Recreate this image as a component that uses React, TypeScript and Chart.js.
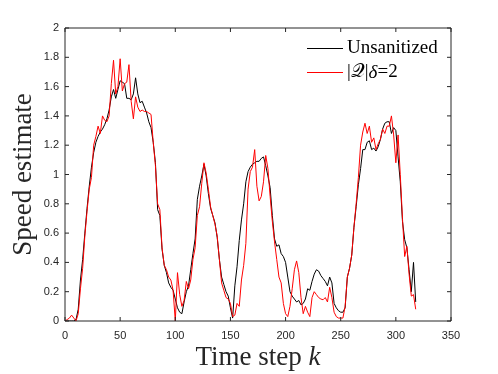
import React, { useEffect, useRef } from "react";
import { Chart, registerables } from "chart.js";

Chart.register(...registerables);

// Time steps k (every second step)
const timeSteps: number[] = Array.from({ length: 160 }, (_, i) => i * 2);

const unsanitized: number[] = [
  0.0, 0.0, 0.0, 0.0, 0.0, 0.01, 0.08, 0.28, 0.42, 0.6,
  0.77, 0.92, 1.05, 1.15, 1.22, 1.26, 1.29, 1.31, 1.34, 1.38,
  1.44, 1.53, 1.58, 1.52, 1.58, 1.64, 1.63, 1.62, 1.52, 1.52,
  1.51, 1.55, 1.66, 1.55, 1.49, 1.5, 1.46, 1.42, 1.36, 1.32,
  1.22, 1.08, 0.76, 0.72, 0.49, 0.38, 0.33, 0.26, 0.23, 0.21,
  0.15, 0.09, 0.06, 0.05, 0.13, 0.2, 0.24, 0.35, 0.46, 0.56,
  0.83, 0.92, 0.99, 1.07, 0.99, 0.87, 0.77, 0.72, 0.67, 0.57,
  0.42, 0.3, 0.25, 0.2, 0.17, 0.09, 0.02, 0.24, 0.37, 0.55,
  0.69, 0.8, 0.95, 1.02, 1.05, 1.07, 1.08, 1.09, 1.09, 1.11,
  1.12, 1.06, 0.99, 0.91, 0.72, 0.56, 0.51, 0.52, 0.46, 0.44,
  0.4, 0.3, 0.2, 0.17, 0.15, 0.13, 0.14, 0.11, 0.12, 0.15,
  0.22, 0.21, 0.27, 0.32, 0.35, 0.34, 0.31, 0.29, 0.27, 0.24,
  0.3, 0.26, 0.12, 0.09, 0.07, 0.06, 0.06, 0.09, 0.3, 0.36,
  0.45, 0.64, 0.78, 0.93, 1.04, 1.17, 1.17, 1.22, 1.23, 1.17,
  1.18, 1.16, 1.19, 1.24, 1.31, 1.35, 1.36, 1.36, 1.28, 1.32,
  1.3, 1.12, 0.95, 0.68, 0.555, 0.5, 0.35, 0.2, 0.4, 0.13,
];

const sanitized: number[] = [
  0.0, 0.01, 0.02, 0.04, 0.02, 0.0, 0.05, 0.22, 0.36, 0.58,
  0.75, 0.9, 0.98, 1.2, 1.26, 1.33, 1.28, 1.4, 1.37, 1.36,
  1.4, 1.62, 1.78, 1.55, 1.6, 1.79, 1.57, 1.62, 1.63, 1.75,
  1.5, 1.38, 1.53, 1.46, 1.43, 1.44, 1.43, 1.43, 1.42, 1.41,
  1.22, 1.06, 0.8, 0.76, 0.5, 0.38, 0.35, 0.3, 0.28, 0.21,
  0.0, 0.33, 0.18, 0.1, 0.14, 0.27, 0.22, 0.28, 0.42, 0.5,
  0.72, 0.78, 0.94, 1.08, 1.01, 0.9, 0.78, 0.72, 0.66, 0.58,
  0.42, 0.26, 0.21, 0.16, 0.15, 0.12, 0.03, 0.04, 0.12, 0.1,
  0.28, 0.38, 0.53, 0.9, 1.02, 1.05, 1.17, 0.92, 0.82, 0.85,
  0.95, 1.13, 1.04, 0.85, 0.68, 0.54, 0.42, 0.3, 0.26, 0.12,
  0.05, 0.03, 0.1, 0.22, 0.35, 0.41, 0.33, 0.16, 0.05, 0.1,
  0.06, 0.03, 0.16, 0.2, 0.18, 0.16, 0.15, 0.145, 0.16, 0.13,
  0.23, 0.16, 0.06, 0.03, 0.02, 0.02, 0.02, 0.1, 0.3, 0.36,
  0.45, 0.64, 0.8, 0.98, 1.2, 1.29, 1.35, 1.28, 1.33, 1.22,
  1.25, 1.17, 1.21, 1.24, 1.31, 1.28, 1.33, 1.33, 1.4, 1.27,
  1.08, 1.27, 1.0, 0.7, 0.44, 0.51, 0.32, 0.17, 0.18, 0.08,
];

const seriesNames = ["Unsanitized", "|𝒬|δ=2"];
// legend label pieces: [text, italic]
const seriesLabelParts: [string, boolean][][] = [
  [["Unsanitized", false]],
  [["|𝒬|", false], ["δ", true], ["=2", false]],
];
const seriesColors = ["#000000", "#ff0000"];
const xTitle = "Time step ";
const xTitleItalic = "k";
const yTitle = "Speed estimate";

const AXIS_COLOR = "#262626";
const SERIF = "'Liberation Serif', 'DejaVu Serif', serif";
const SANS = "'Liberation Sans', Arial, sans-serif";

const boxPlugin = {
  id: "matlabBox",
  afterDatasetsDraw(chart: any) {
    const { ctx, chartArea, scales } = chart;
    const { left, right, top, bottom } = chartArea;
    ctx.save();
    ctx.strokeStyle = AXIS_COLOR;
    ctx.lineWidth = 1;
    ctx.beginPath();
    ctx.rect(left, top, right - left, bottom - top);
    ctx.stroke();
    const tl = 4;
    ctx.beginPath();
    scales.x.ticks.forEach((t: any) => {
      const px = scales.x.getPixelForValue(t.value);
      ctx.moveTo(px, bottom);
      ctx.lineTo(px, bottom - tl);
      ctx.moveTo(px, top);
      ctx.lineTo(px, top + tl);
    });
    scales.y.ticks.forEach((t: any) => {
      const py = scales.y.getPixelForValue(t.value);
      ctx.moveTo(left, py);
      ctx.lineTo(left + tl, py);
      ctx.moveTo(right, py);
      ctx.lineTo(right - tl, py);
    });
    ctx.stroke();
    ctx.restore();
  },
  afterDraw(chart: any) {
    const { ctx, chartArea } = chart;
    const { left, right, top, bottom } = chartArea;
    ctx.save();
    ctx.fillStyle = "#262626";
    // x title
    const fs = 27;
    ctx.font = `${fs}px ${SERIF}`;
    const w1 = ctx.measureText(xTitle).width;
    ctx.font = `italic ${fs}px ${SERIF}`;
    const w2 = ctx.measureText(xTitleItalic).width;
    const cx = (left + right) / 2;
    const x0 = cx - (w1 + w2) / 2;
    ctx.textBaseline = "alphabetic";
    ctx.textAlign = "left";
    ctx.font = `${fs}px ${SERIF}`;
    ctx.fillText(xTitle, x0, 365);
    ctx.font = `italic ${fs}px ${SERIF}`;
    ctx.fillText(xTitleItalic, x0 + w1, 365);
    // y title
    ctx.save();
    ctx.translate(31, (top + bottom) / 2);
    ctx.rotate(-Math.PI / 2);
    ctx.textAlign = "center";
    ctx.font = `${fs}px ${SERIF}`;
    ctx.fillText(yTitle, 0, 0);
    ctx.restore();
    // legend
    const rows = [48.5, 72.5];
    ctx.textBaseline = "middle";
    ctx.textAlign = "left";
    rows.forEach((y, i) => {
      ctx.strokeStyle = seriesColors[i];
      ctx.lineWidth = 1;
      ctx.beginPath();
      ctx.moveTo(307, y);
      ctx.lineTo(343, y);
      ctx.stroke();
      ctx.fillStyle = "#000000";
      let x = 347;
      seriesLabelParts[i].forEach(([txt, it]) => {
        ctx.font = `${it ? "italic " : ""}19px ${SERIF}`;
        ctx.fillText(txt, x, y);
        x += ctx.measureText(txt).width;
      });
    });
    ctx.restore();
  },
};

export default function App() {
  const canvasRef = useRef<HTMLCanvasElement | null>(null);

  useEffect(() => {
    if (!canvasRef.current) return;
    const chart = new Chart(canvasRef.current, {
      type: "line",
      data: {
        datasets: [
          {
            label: seriesNames[0],
            data: timeSteps.map((k, i) => ({ x: k, y: unsanitized[i] })),
            borderColor: seriesColors[0],
            borderWidth: 1,
            pointRadius: 0,
            tension: 0,
            order: 2,
          },
          {
            label: seriesNames[1],
            data: timeSteps.map((k, i) => ({ x: k, y: sanitized[i] })),
            borderColor: seriesColors[1],
            borderWidth: 1,
            pointRadius: 0,
            tension: 0,
            order: 1,
          },
        ],
      },
      options: {
        animation: false,
        responsive: false,
        maintainAspectRatio: false,
        devicePixelRatio: 1,
        layout: { padding: { left: 0, top: 28, right: 47, bottom: 0 } },
        plugins: {
          legend: { display: false },
          tooltip: { enabled: false },
        },
        scales: {
          x: {
            type: "linear",
            min: 0,
            max: 350,
            grid: { display: false, drawTicks: false },
            border: { display: false },
            ticks: {
              stepSize: 50,
              padding: 8,
              color: AXIS_COLOR,
              font: { family: SANS, size: 11 },
              maxRotation: 0,
            },
            afterFit: (s: any) => {
              s.height = 53;
            },
          },
          y: {
            type: "linear",
            min: 0,
            max: 2,
            grid: { display: false, drawTicks: false },
            border: { display: false },
            ticks: {
              stepSize: 0.2,
              padding: 6,
              color: AXIS_COLOR,
              font: { family: SANS, size: 11 },
              callback: (v: any) => String(Number(Number(v).toFixed(1))),
            },
            afterFit: (s: any) => {
              s.width = 65;
            },
          },
        },
      },
      plugins: [boxPlugin],
    });
    return () => chart.destroy();
  }, []);

  return (
    <div style={{ position: "fixed", left: 0, top: 0, width: 498, height: 374, background: "#ffffff" }}>
      <canvas ref={canvasRef} width={498} height={374} style={{ width: 498, height: 374, display: "block" }} />
    </div>
  );
}
